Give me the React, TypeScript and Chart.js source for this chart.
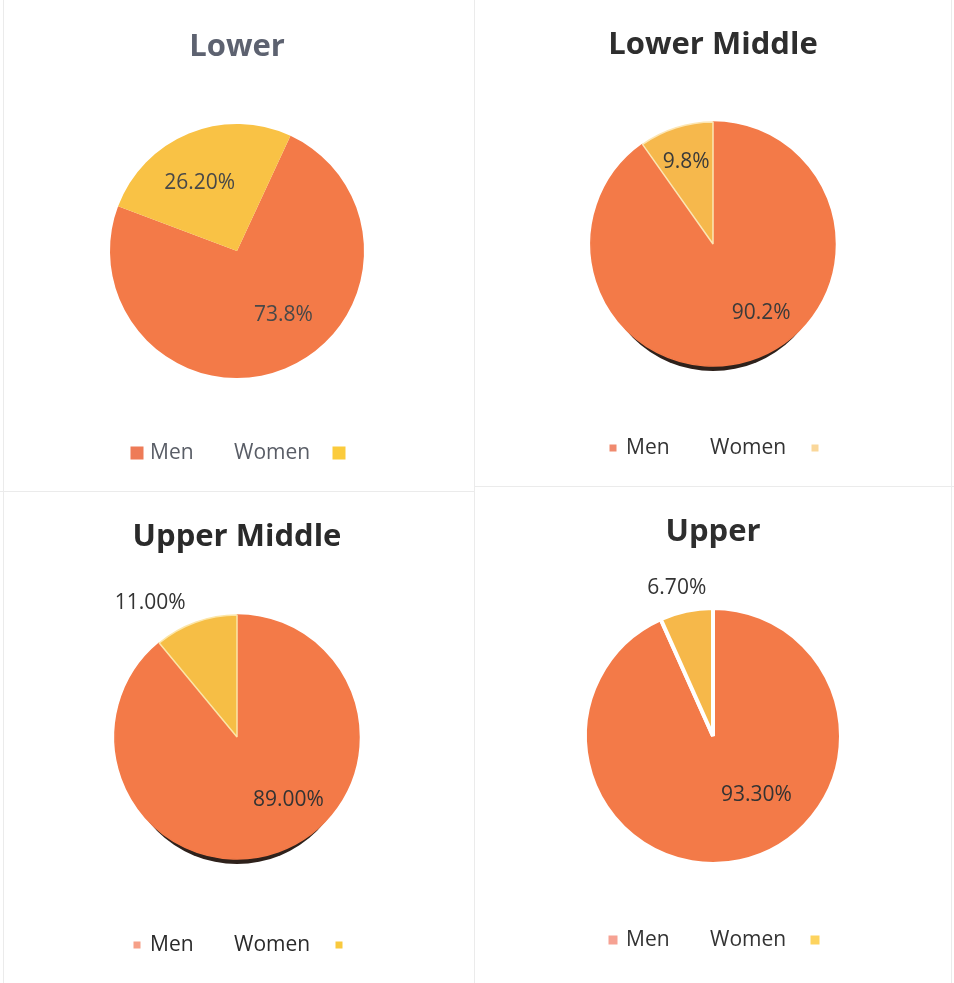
import React, { useEffect, useRef } from "react";
import { Chart, registerables } from "chart.js";

Chart.register(...registerables);

// ---- data ----
const categories = ["Men", "Women"];
const panelTitles = ["Lower", "Lower Middle", "Upper Middle", "Upper"];
const lowerValues = [73.8, 26.2];
const lowerLabels = ["73.8%", "26.20%"];
const lowerMiddleValues = [90.2, 9.8];
const lowerMiddleLabels = ["90.2%", "9.8%"];
const upperMiddleValues = [89.0, 11.0];
const upperMiddleLabels = ["89.00%", "11.00%"];
const upperValues = [93.3, 6.7];
const upperLabels = ["93.30%", "6.70%"];

const CANVAS_W = 460;
const HALF = 132; // half size of chart area box

type Panel = {
  title: string;
  values: number[];
  labels: string[];
  cx: number;
  cy: number;
  r: number;
  top: number;
  height: number;
  titleY: number;
  rotation: number;
  titleColor: string;
  legendColor: string;
  labelColor: string;
  colors: string[];
  borderColor: string | string[];
  borderWidth: number;
  markerColors: string[];
  markerSize: number;
  legendY: number;
  labelPos: number[][];
  shadow: boolean;
};

const panels: Panel[] = [
  {
    title: panelTitles[0], values: lowerValues, labels: lowerLabels,
    cx: 237, cy: 251, r: 127, top: 0, height: 488, titleY: 47, rotation: 24.9,
    titleColor: "#5d6270", legendColor: "#595d66", labelColor: "#484848",
    colors: ["#F37A48", "#F9C245"], borderColor: ["#F37A48", "#F9C245"], borderWidth: 0,
    markerColors: ["#EE7B57", "#FBCB3C"], markerSize: 13, legendY: 453,
    labelPos: [[0.448, 0.62], [0.43, 0.61]], shadow: false,
  },
  {
    title: panelTitles[1], values: lowerMiddleValues, labels: lowerMiddleLabels,
    cx: 713, cy: 244, r: 122, top: 0, height: 488, titleY: 45, rotation: 0,
    titleColor: "#2e2e2e", legendColor: "#333333", labelColor: "#3a3a3a",
    colors: ["#F37A48", "#F6B84C"], borderColor: ["#F37A48", "#FCE6B4"], borderWidth: 1.5,
    markerColors: ["#F08A6E", "#FAD79A"], markerSize: 7, legendY: 448,
    labelPos: [[0.447, 0.69], [0.49, 0.71]], shadow: true,
  },
  {
    title: panelTitles[2], values: upperMiddleValues, labels: upperMiddleLabels,
    cx: 237, cy: 737, r: 122, top: 492, height: 491, titleY: 537, rotation: 0,
    titleColor: "#2a2a2a", legendColor: "#2a2a2a", labelColor: "#333333",
    colors: ["#F37A48", "#F6BE45"], borderColor: ["#F37A48", "#FCE6A8"], borderWidth: 1.5,
    markerColors: ["#F6A088", "#F9C93E"], markerSize: 7, legendY: 945,
    labelPos: [[0.44, 0.67], [0.17, 1.31]], shadow: true,
  },
  {
    title: panelTitles[3], values: upperValues, labels: upperLabels,
    cx: 713, cy: 736, r: 128, top: 492, height: 491, titleY: 532, rotation: 0,
    titleColor: "#2e2e2e", legendColor: "#333333", labelColor: "#333333",
    colors: ["#F37A48", "#F6B84A"], borderColor: "#FFFFFF", borderWidth: 4,
    markerColors: ["#F6A293", "#FDD35E"], markerSize: 9, legendY: 940,
    labelPos: [[0.427, 0.57], [0.43, 1.19]], shadow: false,
  },
];

const extrasPlugin = {
  id: "pieExtras",
  beforeDatasetsDraw(chart: any, _args: any, opts: any) {
    if (!opts.shadow) return;
    const arc = chart.getDatasetMeta(0).data[0];
    if (!arc) return;
    const { x, y, outerRadius } = arc.getProps(["x", "y", "outerRadius"], true);
    const ctx = chart.ctx;
    ctx.save();
    ctx.fillStyle = "#2e211b";
    ctx.beginPath();
    ctx.arc(x, y + 14, outerRadius - 9, 0, Math.PI * 2);
    ctx.fill();
    ctx.restore();
  },
  afterDatasetsDraw(chart: any, _args: any, opts: any) {
    const ctx = chart.ctx;
    const meta = chart.getDatasetMeta(0);
    const texts: string[] = opts.texts || [];
    const pos: number[][] = opts.pos || [];
    ctx.save();
    ctx.font = "21px 'Open Sans'";
    ctx.fillStyle = opts.labelColor;
    ctx.textAlign = "center";
    ctx.textBaseline = "middle";
    meta.data.forEach((arc: any, i: number) => {
      const p = arc.getProps(["x", "y", "startAngle", "endAngle", "outerRadius"], true);
      const t = pos[i] ? pos[i][0] : 0.5;
      const f = pos[i] ? pos[i][1] : 0.6;
      const a = p.startAngle + t * (p.endAngle - p.startAngle);
      const lx = p.x + Math.cos(a) * p.outerRadius * f;
      const ly = p.y + Math.sin(a) * p.outerRadius * f;
      ctx.fillText(texts[i], lx, ly);
    });
    ctx.restore();
  },
  afterDraw(chart: any, _args: any, opts: any) {
    const ctx = chart.ctx;
    const cx = chart.width / 2;
    const y = opts.legendY;
    const s = opts.markerSize;
    const names: string[] = chart.data.labels;
    const mc: string[] = opts.markerColors;
    ctx.save();
    ctx.font = "21px 'Open Sans'";
    ctx.textBaseline = "middle";
    ctx.textAlign = "left";
    ctx.fillStyle = mc[0];
    ctx.fillRect(cx - 100 - s / 2, y - s / 2, s, s);
    ctx.fillStyle = opts.legendColor;
    ctx.fillText(names[0], cx - 87, y);
    ctx.fillText(names[1], cx - 3, y);
    ctx.fillStyle = mc[1];
    ctx.fillRect(cx + 102 - s / 2, y - s / 2, s, s);
    ctx.restore();
  },
};

function PiePanel({ p }: { p: Panel }) {
  const ref = useRef<HTMLCanvasElement>(null);
  useEffect(() => {
    if (!ref.current) return;
    const relCy = p.cy - p.top;
    const fontSize = 31;
    const lineH = fontSize * 1.2;
    const titleTop = p.titleY - p.top - lineH / 2;
    const areaTop = relCy - HALF;
    const titleBottomPad = areaTop - titleTop - lineH;
    const padBottom = p.height - (relCy + HALF);
    const padSide = CANVAS_W / 2 - HALF;
    const chart = new Chart(ref.current, {
      type: "pie",
      data: {
        labels: categories,
        datasets: [
          {
            data: p.values,
            backgroundColor: p.colors,
            borderColor: p.borderColor as any,
            borderWidth: p.borderWidth,
            hoverOffset: 0,
          },
        ],
      },
      options: {
        responsive: false,
        maintainAspectRatio: false,
        animation: false,
        devicePixelRatio: 1,
        rotation: p.rotation,
        radius: p.r,
        layout: { padding: { top: 0, left: padSide, right: padSide, bottom: padBottom } },
        events: [],
        plugins: {
          legend: { display: false },
          tooltip: { enabled: false },
          title: {
            display: true,
            text: p.title,
            color: p.titleColor,
            font: { family: "'Open Sans'", size: fontSize, weight: "bold", lineHeight: 1.2 },
            padding: { top: titleTop, bottom: titleBottomPad },
          },
          pieExtras: {
            texts: p.labels,
            pos: p.labelPos,
            labelColor: p.labelColor,
            legendColor: p.legendColor,
            markerColors: p.markerColors,
            markerSize: p.markerSize,
            legendY: p.legendY - p.top,
            shadow: p.shadow,
          },
        } as any,
      },
      plugins: [extrasPlugin as any],
    });
    return () => chart.destroy();
  }, [p]);
  return (
    <canvas
      ref={ref}
      width={CANVAS_W}
      height={p.height}
      style={{
        position: "absolute",
        left: p.cx - CANVAS_W / 2,
        top: p.top,
        width: CANVAS_W,
        height: p.height,
      }}
    />
  );
}

export default function App() {
  const line = (s: React.CSSProperties) => (
    <div style={{ position: "absolute", background: "#ebebeb", ...s }} />
  );
  return (
    <div
      style={{
        position: "absolute",
        left: 0,
        top: 0,
        width: 954,
        height: 983,
        background: "#ffffff",
        overflow: "hidden",
      }}
    >
      {line({ left: 474, top: 0, width: 1, height: 983 })}
      {line({ left: 0, top: 491, width: 474, height: 1 })}
      {line({ left: 474, top: 486, width: 480, height: 1 })}
      {line({ left: 3, top: 0, width: 1, height: 983 })}
      {line({ left: 951, top: 0, width: 1, height: 983 })}
      {panels.map((p, i) => (
        <PiePanel key={i} p={p} />
      ))}
    </div>
  );
}
